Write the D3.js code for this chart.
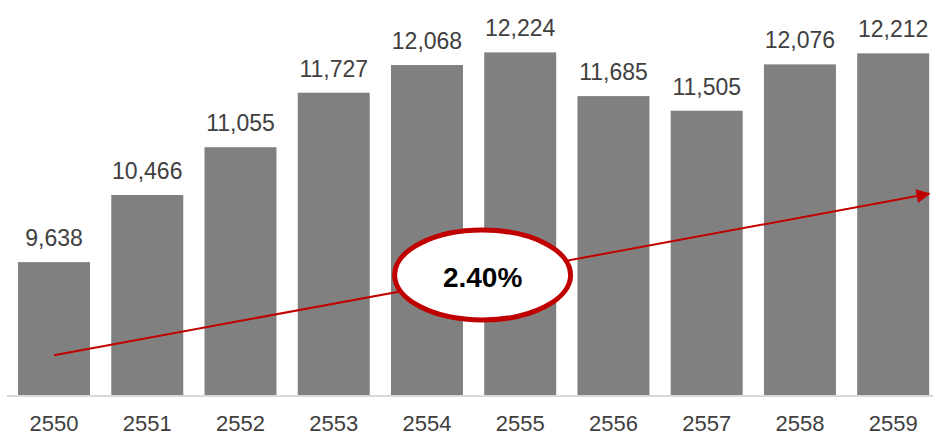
<!DOCTYPE html>
<html>
<head>
<meta charset="utf-8">
<script src="https://cdn.jsdelivr.net/npm/d3@7"></script>
<style>
  body { margin: 0; background: #fff; }
  text { font-family: "Liberation Sans", Arial, sans-serif; }
</style>
</head>
<body>
<script>
// chart data
const years = ['2550', '2551', '2552', '2553', '2554', '2555', '2556', '2557', '2558', '2559'];
const values = [9638, 10466, 11055, 11727, 12068, 12224, 11685, 11505, 12076, 12212];
const growthLabel = '2.40%';
// trend arrow ends, in value units
const trendValues = [8490, 10480];

const W = 933, H = 436;
const baseY = 395;

const svg = d3.select('body').append('svg')
    .attr('width', W)
    .attr('height', H);

const x = d3.scaleBand()
    .domain(years)
    .range([7.4, 939.8])
    .paddingInner(0.228)
    .paddingOuter(0.114);

const y = d3.scaleLinear()
    .domain([8000, 12500])
    .range([baseY, 30]);

// bars
svg.selectAll('rect.bar')
    .data(values)
    .enter().append('rect')
    .attr('class', 'bar')
    .attr('x', (d, i) => x(years[i]))
    .attr('y', d => y(d))
    .attr('width', x.bandwidth())
    .attr('height', d => baseY - y(d))
    .attr('fill', '#808080');

// baseline
svg.append('line')
    .attr('x1', 7).attr('x2', W)
    .attr('y1', baseY + 1).attr('y2', baseY + 1)
    .attr('stroke', '#d9d9d9')
    .attr('stroke-width', 2);

// value labels
svg.selectAll('text.val')
    .data(values)
    .enter().append('text')
    .attr('class', 'val')
    .attr('x', (d, i) => x(years[i]) + x.bandwidth() / 2)
    .attr('y', d => y(d) - 16)
    .attr('text-anchor', 'middle')
    .style('font-size', '23px')
    .attr('fill', '#404040')
    .text(d => d3.format(',')(d));

// x axis labels
const xAxis = d3.axisBottom(x).tickSize(0).tickPadding(0);
const xg = svg.append('g')
    .attr('transform', `translate(0, ${baseY})`)
    .call(xAxis);
xg.select('.domain').remove();
xg.selectAll('text')
    .attr('y', 36)
    .attr('dy', 0)
    .style('font-size', '22px')
    .style('font-family', '"Liberation Sans", Arial, sans-serif')
    .attr('fill', '#404040');

// trend arrow
svg.append('defs').append('marker')
    .attr('id', 'arrow')
    .attr('viewBox', '0 0 10 10')
    .attr('refX', 9).attr('refY', 5)
    .attr('markerWidth', 8).attr('markerHeight', 7)
    .attr('markerUnits', 'strokeWidth')
    .attr('orient', 'auto')
    .append('path')
    .attr('d', 'M0,0 L10,5 L0,10 Z')
    .attr('fill', '#c00000');

const x0 = x(years[0]) + x.bandwidth() / 2;
const x1 = x(years[years.length - 1]) + x.bandwidth();
svg.append('line')
    .attr('x1', x0).attr('y1', y(trendValues[0]))
    .attr('x2', x1).attr('y2', y(trendValues[1]))
    .attr('stroke', '#c00000')
    .attr('stroke-width', 2)
    .attr('marker-end', 'url(#arrow)');

// growth ellipse
const cx = (x(years[4]) + x.bandwidth() + x(years[5])) / 2 + 9;
const cy = 275;
svg.append('ellipse')
    .attr('cx', cx).attr('cy', cy)
    .attr('rx', 88).attr('ry', 45)
    .attr('fill', '#fff')
    .attr('stroke', '#c00000')
    .attr('stroke-width', 5);

svg.append('text')
    .attr('x', cx)
    .attr('y', cy + 12)
    .attr('text-anchor', 'middle')
    .style('font-size', '28px')
    .style('font-weight', 'bold')
    .attr('fill', '#000')
    .text(growthLabel);
</script>
</body>
</html>
